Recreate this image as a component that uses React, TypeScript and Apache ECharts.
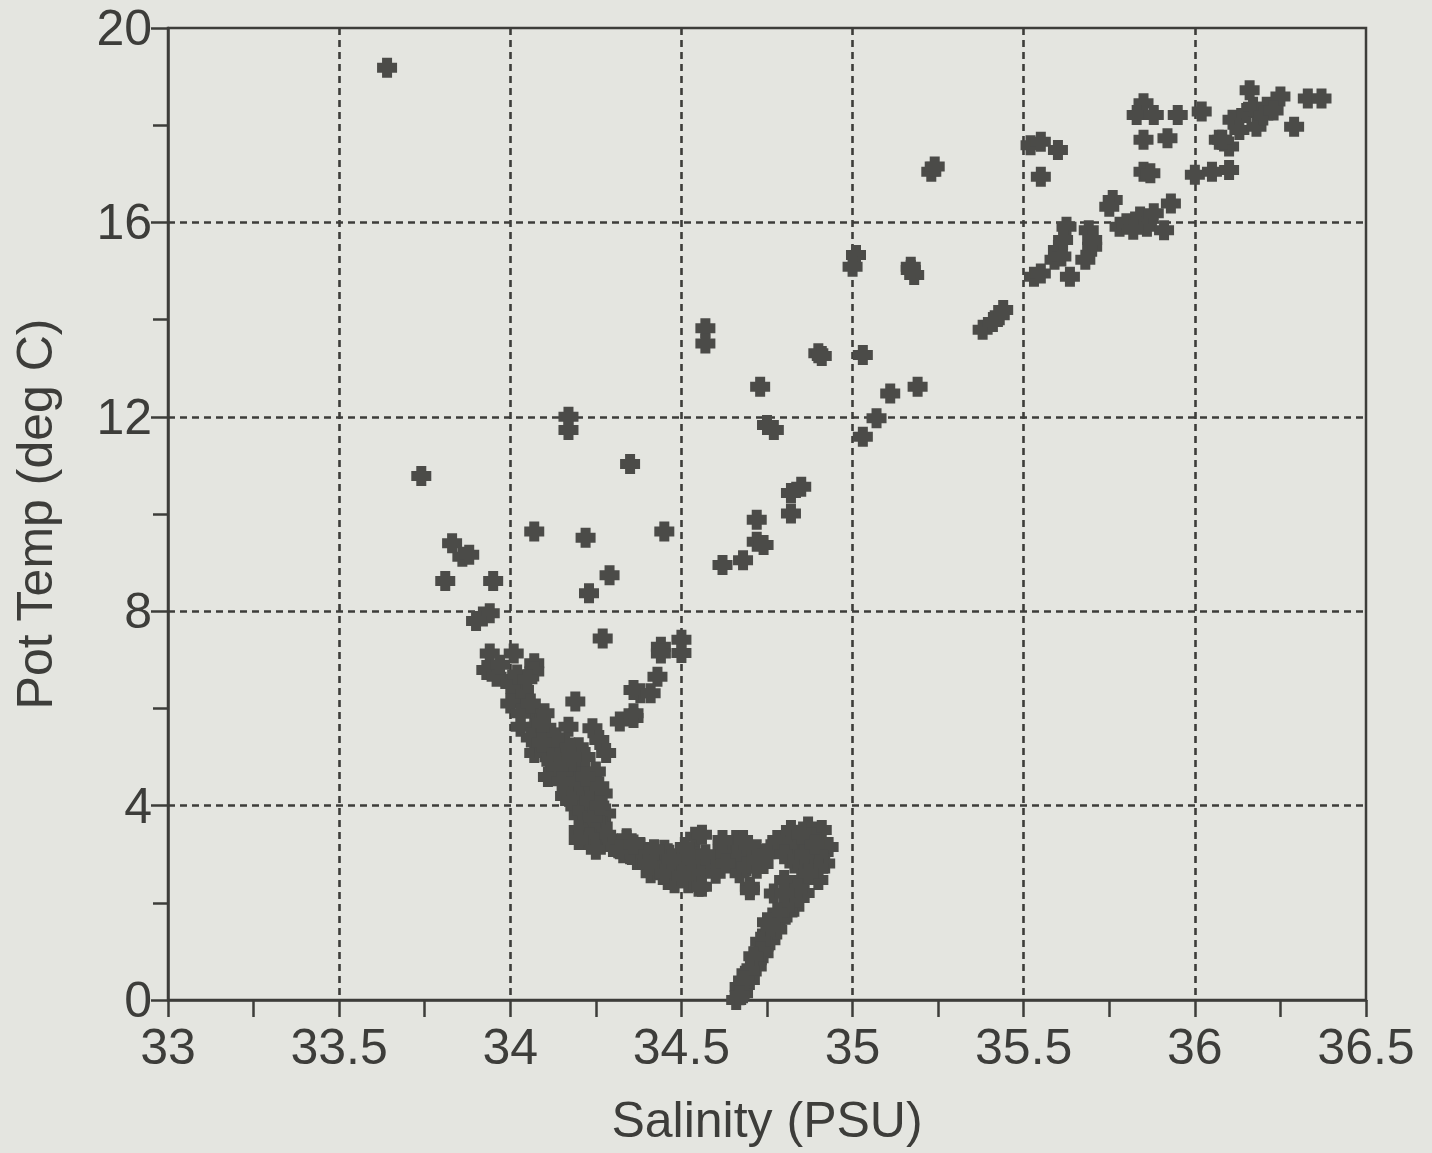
import React, { useEffect, useRef } from "react";
import * as echarts from "echarts";

const xTicks = [33, 33.5, 34, 34.5, 35, 35.5, 36, 36.5];
const yTicks = [0, 4, 8, 12, 16, 20];

const upperWarm: number[][] = [
  [35.43, 14.09], [35.38, 13.79], [35.41, 13.95], [35.44, 14.2],
  [35.53, 14.88], [35.55, 14.95], [35.6, 15.43], [35.59, 15.23], [35.61, 15.3], [35.625, 15.91],
  [35.615, 15.64], [35.635, 14.88], [35.69, 15.84], [35.7, 15.5], [35.68, 15.23], [35.7, 15.64],
  [35.76, 16.46], [35.75, 16.32], [35.78, 15.91], [35.8, 15.98], [35.84, 16.12], [35.86, 15.91],
  [35.88, 16.19], [35.91, 15.84], [35.93, 16.39], [35.82, 15.85],
  [35.52, 17.59], [35.55, 17.66], [35.6, 17.49], [35.55, 16.94],
  [35.85, 18.45], [35.83, 18.21], [35.88, 18.21], [35.95, 18.21], [36.02, 18.28], [35.85, 17.7],
  [35.92, 17.73], [35.85, 17.04], [35.87, 17.01], [36.0, 16.98], [36.05, 17.04], [36.1, 17.08],
  [36.07, 17.7], [36.1, 17.56], [36.08, 17.7], [36.11, 18.11], [36.15, 18.25], [36.17, 18.38],
  [36.21, 18.38], [36.25, 18.59], [36.29, 17.97], [36.16, 18.72], [36.13, 17.9], [36.18, 17.97],
  [36.33, 18.55], [36.37, 18.55], [36.2, 18.2], [36.23, 18.3],
];

const intermediate: number[][] = [
  [35.23, 17.04], [35.24, 17.15], [35.01, 15.33], [35.0, 15.09], [35.17, 15.09], [35.18, 14.92],
  [35.17, 15.02], [34.57, 13.82], [34.57, 13.51], [34.9, 13.31], [34.91, 13.25], [35.03, 13.27],
  [34.73, 12.62], [35.11, 12.48], [35.19, 12.62], [35.07, 11.97], [34.75, 11.83], [34.77, 11.73],
  [35.03, 11.59], [34.85, 10.56], [34.82, 10.43], [34.82, 10.01], [34.72, 9.88], [34.72, 9.43],
  [34.74, 9.36], [34.68, 9.05], [34.62, 8.95],
];

const leftScatter: number[][] = [
  [33.64, 19.18], [33.74, 10.78], [33.83, 9.4], [33.86, 9.12], [33.88, 9.16], [33.81, 8.62],
  [33.95, 8.62], [33.92, 7.89], [33.94, 7.96], [33.9, 7.8], [34.07, 9.64], [34.22, 9.51],
  [34.35, 11.03], [34.29, 8.74], [34.23, 8.37], [34.45, 9.64], [34.17, 12.0], [34.17, 11.73],
  [34.27, 7.44], [34.44, 7.27], [34.5, 7.41], [34.5, 7.14], [34.43, 6.65], [34.38, 6.31],
  [34.36, 6.38], [34.32, 5.73], [34.36, 5.8], [34.36, 5.9], [34.41, 6.31], [34.44, 7.13], [34.19, 6.14],
];

const denseCore: number[][] = [
  [33.94, 7.13], [33.93, 6.79], [33.96, 6.65], [34.01, 7.13], [34.07, 6.93], [34.07, 6.76],
  [34.02, 6.24], [34.04, 6.38], [34.07, 5.9], [34.03, 5.62], [34.08, 5.62], [34.12, 5.35],
  [34.07, 5.08], [34.17, 5.62], [34.24, 5.59], [34.26, 5.35], [34.28, 5.08], [34.15, 5.08],
  [34.13, 4.73], [34.11, 4.59], [34.16, 4.66], [34.2, 4.73], [34.24, 4.53], [34.17, 4.39],
  [34.22, 4.25], [34.27, 4.25], [34.19, 3.98], [34.24, 3.91], [34.28, 3.84], [34.22, 3.64],
  [34.27, 3.57], [34.22, 3.29], [34.26, 3.36], [34.3, 3.22], [34.34, 3.29], [34.38, 3.15],
  [34.1, 5.2], [34.14, 5.0], [34.18, 4.9], [34.2, 5.2], [34.18, 4.5], [34.22, 4.0], [34.2, 3.8],
  [34.25, 3.7], [34.1, 5.9], [34.05, 6.0], [34.0, 6.5], [34.12, 5.5], [34.22, 5.0], [34.25, 4.7],
  [34.26, 4.4], [34.2, 4.2], [34.0, 6.1], [34.03, 5.9], [34.06, 5.4], [34.09, 5.7], [34.1, 5.1],
  [34.12, 4.9], [34.14, 4.8], [34.16, 5.3], [34.18, 5.0], [34.16, 4.2], [34.18, 4.1], [34.2, 4.5],
  [34.21, 3.9], [34.23, 4.1], [34.24, 3.75], [34.2, 3.5], [34.25, 3.45], [34.28, 3.4], [34.15, 4.5],
  [34.13, 5.4], [34.09, 5.3], [34.06, 6.1], [34.02, 6.7], [33.97, 6.9], [34.05, 6.6], [34.22, 4.6],
  [34.26, 4.0], [34.23, 3.35],
];

const threeDegreeBand: number[][] = [
  [34.33, 3.02], [34.37, 2.88], [34.42, 2.88], [34.46, 3.02], [34.41, 2.61], [34.46, 2.47],
  [34.5, 2.88], [34.54, 3.02], [34.54, 3.36], [34.52, 2.4], [34.55, 2.33], [34.58, 2.88],
  [34.62, 3.09], [34.66, 3.29], [34.7, 2.33], [34.71, 2.88], [34.67, 2.61],
  [34.3, 3.15], [34.35, 3.0], [34.4, 3.0], [34.44, 2.75], [34.48, 2.7], [34.52, 2.75], [34.56, 2.7],
  [34.6, 2.8], [34.64, 2.9], [34.68, 3.0], [34.72, 3.1], [34.2, 3.29], [34.25, 3.09], [34.34, 3.33],
  [34.38, 3.12], [34.45, 3.09], [34.43, 2.67], [34.48, 2.4], [34.51, 3.15], [34.56, 3.4],
  [34.54, 2.67], [34.56, 2.33], [34.32, 3.1], [34.36, 3.2], [34.4, 2.8], [34.42, 3.1], [34.45, 2.6],
  [34.47, 2.9], [34.5, 2.55], [34.53, 2.9], [34.57, 3.0], [34.6, 2.6], [34.63, 3.0], [34.66, 2.9],
  [34.69, 2.75], [34.72, 2.7], [34.74, 2.8], [34.76, 3.1], [34.79, 3.2], [34.83, 3.3],
];

const deepArm: number[][] = [
  [34.62, 3.29], [34.68, 3.29], [34.63, 2.81], [34.7, 2.26], [34.72, 2.88], [34.75, 3.02],
  [34.78, 3.29], [34.82, 3.5], [34.87, 3.57], [34.91, 3.5], [34.93, 3.15], [34.92, 2.81],
  [34.9, 2.47], [34.83, 2.81], [34.85, 2.47], [34.82, 2.13], [34.77, 2.19], [34.83, 1.92],
  [34.77, 1.65], [34.75, 1.37], [34.74, 1.1], [34.72, 0.82], [34.69, 0.55], [34.67, 0.27],
  [34.66, 0.0], [34.8, 2.47], [34.79, 1.65], [34.76, 1.23], [34.74, 0.96], [34.72, 0.69],
  [34.7, 0.41], [34.68, 0.14], [34.85, 3.15], [34.81, 3.15], [34.87, 3.15], [34.88, 2.8],
  [34.88, 3.35], [34.85, 3.4], [34.8, 3.0], [34.84, 2.9], [34.9, 3.0], [34.86, 2.2],
  [34.81, 1.8], [34.78, 1.45], [34.86, 3.0], [34.89, 3.2], [34.9, 2.7], [34.87, 2.6],
  [34.84, 2.3], [34.82, 2.0], [34.8, 1.9], [34.8, 2.2], [34.78, 1.8], [34.76, 1.5], [34.75, 1.6],
  [34.73, 1.2], [34.73, 1.0], [34.71, 0.9], [34.7, 0.6], [34.68, 0.4], [34.67, 0.1],
];

const INK = "#3d3d3a";
const MARK = "#4b4b48";
const BG = "#e4e5e0";
const FONT = "'Liberation Sans', Arial, Helvetica, sans-serif";
const CROSS = "path://M5,0 H15 V5 H20 V15 H15 V20 H5 V15 H0 V5 H5 Z";

export default function App() {
  const ref = useRef<HTMLDivElement>(null);
  useEffect(() => {
    document.body.style.margin = "0";
    document.body.style.background = BG;
    const chart = echarts.init(ref.current!, undefined, { renderer: "svg" });
    const allPoints = [...upperWarm, ...intermediate, ...leftScatter, ...denseCore, ...threeDegreeBand, ...deepArm];
    chart.setOption({
      animation: false,
      backgroundColor: BG,
      textStyle: { fontFamily: FONT },
      grid: {
        left: 168,
        top: 28,
        right: 66,
        bottom: 153,
        show: true,
        borderColor: INK,
        borderWidth: 2.5,
        backgroundColor: "transparent",
      },
      xAxis: {
        type: "value",
        min: xTicks[0],
        max: xTicks[xTicks.length - 1],
        interval: 0.5,
        name: "Salinity (PSU)",
        nameLocation: "middle",
        nameGap: 95,
        nameTextStyle: { fontSize: 50, color: INK, fontFamily: FONT },
        axisLine: { lineStyle: { color: INK, width: 2.5 } },
        axisTick: { show: true, length: 17, lineStyle: { color: INK, width: 2.5 } },
        minorTick: { show: true, splitNumber: 2, length: 17, lineStyle: { color: INK, width: 2.5 } },
        splitLine: {
          show: true,
          showMinLine: false,
          showMaxLine: false,
          lineStyle: { color: INK, width: 2.6, type: [7, 5] },
        },
        axisLabel: { fontSize: 50, color: INK, margin: 22, fontFamily: FONT, formatter: (v: number) => String(v) },
      },
      yAxis: {
        type: "value",
        min: yTicks[0],
        max: yTicks[yTicks.length - 1],
        interval: 4,
        name: "Pot Temp (deg C)",
        nameLocation: "middle",
        nameGap: 108,
        nameTextStyle: { fontSize: 50, color: INK, fontFamily: FONT },
        axisLine: { lineStyle: { color: INK, width: 2.5 } },
        axisTick: { show: true, length: 17, lineStyle: { color: INK, width: 2.5 } },
        minorTick: { show: true, splitNumber: 2, length: 15, lineStyle: { color: INK, width: 2.5 } },
        splitLine: {
          show: true,
          showMinLine: false,
          showMaxLine: false,
          lineStyle: { color: INK, width: 2.6, type: [7, 5] },
        },
        axisLabel: { fontSize: 50, color: INK, margin: 16, fontFamily: FONT },
      },
      series: [
        {
          type: "scatter",
          data: allPoints,
          symbol: CROSS,
          symbolSize: 20,
          itemStyle: { color: MARK, opacity: 1 },
          emphasis: { disabled: true },
        },
      ],
    });
    return () => chart.dispose();
  }, []);
  return <div ref={ref} style={{ width: 1432, height: 1153 }} />;
}
